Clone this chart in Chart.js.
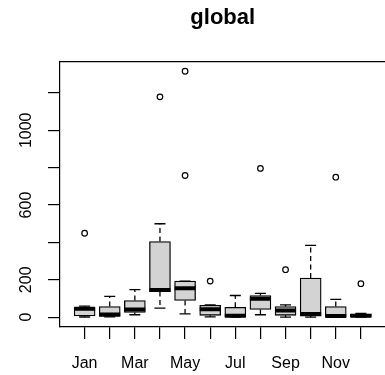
<!DOCTYPE html>
<html lang="en">
<head>
    <meta charset="UTF-8">
    <title>global</title>
    <script src="https://cdn.jsdelivr.net/npm/chart.js"></script>
    <style>
        html, body {
            margin: 0;
            padding: 0;
            background: white;
            overflow: hidden;
        }
        #chart {
            display: block;
        }
    </style>
</head>
<body>
    <canvas id="chart" width="400" height="375"></canvas>
    <script>
        // monthly values
        var months = ['Jan', 'Feb', 'Mar', 'Apr', 'May', 'Jun', 'Jul', 'Aug', 'Sep', 'Oct', 'Nov', 'Dec'];
        var xTickLabels = ['Jan', '', 'Mar', '', 'May', '', 'Jul', '', 'Sep', '', 'Nov', ''];
        var yTicks = [0, 200, 400, 600, 800, 1000, 1200];
        var yTickLabels = ['0', '200', '', '600', '', '1000', ''];

        var lowerWhisker = [1, 2, 13, 48, 18, 2, 0, 13, 0, 0, 0, 0];
        var q1 = [7, 4, 25, 137, 89, 10, 3, 41, 10, 6, 3, 2];
        var median = [45, 14, 41, 146, 155, 42, 8, 98, 36, 17, 6, 8];
        var q3 = [51, 57, 89, 405, 193, 64, 53, 116, 57, 209, 57, 17];
        var upperWhisker = [59, 111, 147, 500, 193, 66, 116, 127, 66, 384, 95, 20];

        var outlierMonths = ['Jan', 'Apr', 'May', 'May', 'Jun', 'Aug', 'Sep', 'Nov', 'Dec'];
        var outlierValues = [449, 1179, 1316, 758, 193, 796, 254, 749, 179];

        var yMin = -52.6;
        var yMax = 1368.6;

        Chart.defaults.font.family = '"Liberation Sans", Arial, sans-serif';
        Chart.defaults.color = '#000';

        var boxes = months.map(function(m, i) { return {x: i + 1, y: [q1[i], q3[i]]}; });
        var medians = months.map(function(m, i) { return {x: i + 1, y: median[i]}; });
        var caps = [];
        var whiskers = [];
        months.forEach(function(m, i) {
            caps.push({x: i + 1, y: upperWhisker[i]}, {x: i + 1, y: lowerWhisker[i]});
            whiskers.push({x: i + 1, y: q3[i]}, {x: i + 1, y: upperWhisker[i]}, {x: i + 1, y: null});
            whiskers.push({x: i + 1, y: q1[i]}, {x: i + 1, y: lowerWhisker[i]}, {x: i + 1, y: null});
        });
        var outliers = outlierMonths.map(function(m, i) {
            return {x: months.indexOf(m) + 1, y: outlierValues[i]};
        });

        var ctx = document.getElementById('chart').getContext('2d');
        var chart = new Chart(ctx, {
            type: 'bar',
            data: {
                datasets: [
                    {
                        type: 'line',
                        data: whiskers,
                        borderColor: '#000',
                        borderWidth: 1.3,
                        borderDash: [5, 3.5],
                        pointRadius: 0,
                        spanGaps: false,
                        order: 5
                    },
                    {
                        type: 'line',
                        data: caps,
                        showLine: false,
                        pointStyle: 'line',
                        pointRadius: 5.5,
                        pointBorderWidth: 1.3,
                        pointBorderColor: '#000',
                        order: 4
                    },
                    {
                        type: 'bar',
                        data: boxes,
                        backgroundColor: '#d3d3d3',
                        borderColor: '#000',
                        borderWidth: 1.3,
                        borderSkipped: false,
                        barThickness: 21,
                        order: 3
                    },
                    {
                        type: 'line',
                        data: medians,
                        showLine: false,
                        pointStyle: 'line',
                        pointRadius: 10.5,
                        pointBorderWidth: 4,
                        pointBorderColor: '#000',
                        order: 2
                    },
                    {
                        type: 'line',
                        data: outliers,
                        showLine: false,
                        pointStyle: 'circle',
                        pointRadius: 2.8,
                        pointBorderWidth: 1.2,
                        pointBorderColor: '#000',
                        pointBackgroundColor: 'rgba(0,0,0,0)',
                        order: 1
                    }
                ]
            },
            options: {
                responsive: false,
                animation: false,
                events: [],
                layout: {
                    padding: {left: 0, right: 8, top: 0, bottom: 0}
                },
                plugins: {
                    legend: {display: false},
                    tooltip: {enabled: false},
                    title: {
                        display: true,
                        text: 'global',
                        fullSize: false,
                        color: '#000',
                        font: {size: 22, weight: 'bold'},
                        padding: {top: 5, bottom: 30}
                    }
                },
                scales: {
                    x: {
                        type: 'linear',
                        position: 'bottom',
                        min: 0.02,
                        max: 12.98,
                        offset: false,
                        grid: {
                            display: true,
                            offset: false,
                            drawOnChartArea: false,
                            drawTicks: true,
                            tickLength: 12,
                            color: '#000',
                            lineWidth: 1.2
                        },
                        border: {display: true, color: '#000', width: 1.2},
                        ticks: {
                            autoSkip: false,
                            maxRotation: 0,
                            padding: 15,
                            font: {size: 16},
                            callback: function(value) {
                                return xTickLabels[value - 1] || '';
                            }
                        },
                        afterBuildTicks: function(scale) {
                            scale.ticks = months.map(function(m, i) { return {value: i + 1}; });
                        },
                        afterFit: function(scale) { scale.height = 48; }
                    },
                    xTop: {
                        type: 'linear',
                        position: 'top',
                        min: 0.02,
                        max: 12.98,
                        grid: {display: false, drawTicks: false},
                        border: {display: true, color: '#000', width: 1.2},
                        ticks: {display: false},
                        afterFit: function(scale) { scale.height = 0; }
                    },
                    y: {
                        type: 'linear',
                        position: 'left',
                        min: yMin,
                        max: yMax,
                        grid: {
                            display: true,
                            drawOnChartArea: false,
                            drawTicks: true,
                            tickLength: 12,
                            color: '#000',
                            lineWidth: 1.2
                        },
                        border: {display: true, color: '#000', width: 1.2},
                        ticks: {
                            autoSkip: false,
                            minRotation: 90,
                            maxRotation: 90,
                            crossAlign: 'center',
                            padding: 4,
                            font: {size: 16},
                            callback: function(value) {
                                var i = yTicks.indexOf(value);
                                return i >= 0 ? yTickLabels[i] : '';
                            }
                        },
                        afterBuildTicks: function(scale) {
                            scale.ticks = yTicks.map(function(v) { return {value: v}; });
                        },
                        afterFit: function(scale) { scale.width = 60; }
                    }
                }
            }
        });
    </script>
</body>
</html>
